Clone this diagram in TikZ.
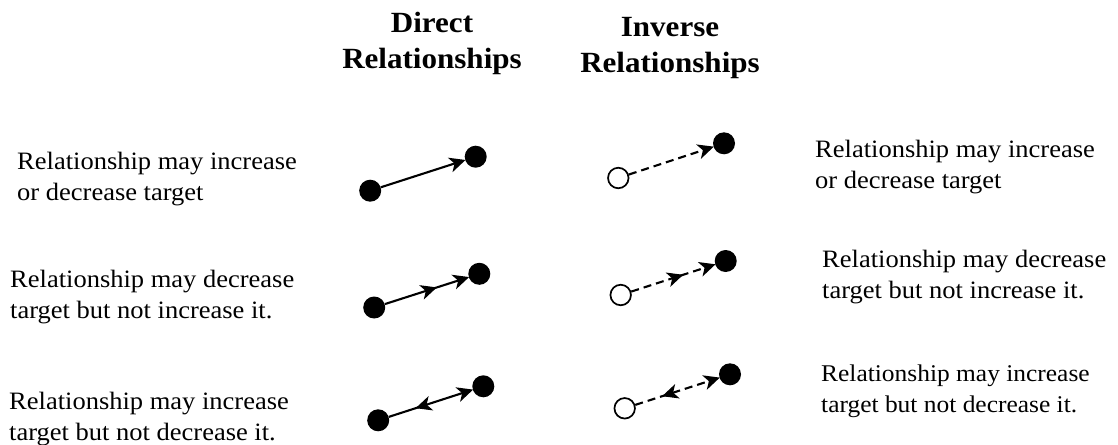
\documentclass[tikz,border=0pt]{standalone}
\usepackage{fontspec}
\setmainfont{Liberation Serif}[FakeStretch=1.06]
\usetikzlibrary{arrows.meta,decorations.markings}
\begin{document}
\begin{tikzpicture}[x=1pt,y=-1pt,
  lbl/.style={inner sep=0pt,anchor=base west,align=left,font=\fontsize{25}{31}\selectfont},
  hdr/.style={inner sep=0pt,anchor=base,align=center,font=\fontsize{29.3}{35.5}\selectfont\bfseries},
  dotf/.style={circle,fill=black,inner sep=0pt,minimum size=22pt},
  doto/.style={circle,draw=black,fill=white,line width=1.7pt,inner sep=0pt,minimum size=20.5pt},
  con/.style={line width=2.1pt,-{Stealth[length=16pt,width=15pt,inset=4.5pt]},shorten >=-0.5pt},
  dsh/.style={con,dash pattern=on 8pt off 5pt},
  midf/.style={postaction={decorate},decoration={markings,mark=at position 0.62 with {\arrow[line width=1pt]{Stealth[length=16pt,width=15pt,inset=4.5pt]}}}},
  midr/.style={postaction={decorate},decoration={markings,mark=at position 0.32 with {\arrowreversed[line width=1pt]{Stealth[length=16pt,width=15pt,inset=4.5pt]}}}}
]
\useasboundingbox (0,0) rectangle (1118,444);

% headers
\node[hdr] (hd) at (432,68) {Direct\\Relationships};
\node[hdr] (hi) at (670,72) {Inverse\\Relationships};

% left texts
\node[lbl] (l1) at (17,200) {Relationship may increase\\or decrease target};
\node[lbl] (l2) at (10,318) {Relationship may decrease\\target but not increase it.};
\node[lbl] (l3) at (9,440) {Relationship may increase\\target but not decrease it.};

% right texts
\node[lbl] (r1) at (815,188) {Relationship may increase\\or decrease target};
\node[lbl] (r2) at (822,298) {Relationship may decrease\\target but not increase it.};
\node[lbl,font=\fontsize{24}{31}\selectfont] (r3) at (821,412) {Relationship may increase\\target but not decrease it.};

% row 1
\node[dotf] (a1) at (370.2,190.7) {};
\node[dotf] (b1) at (475.7,156.7) {};
\node[doto] (c1) at (618.3,178) {};
\node[dotf] (e1) at (724,143.3) {};
\draw[con] (a1) -- (b1);
\draw[dsh] (c1) -- (e1);

% row 2
\node[dotf] (a2) at (374.2,307.5) {};
\node[dotf] (b2) at (479.3,273.8) {};
\node[doto] (c2) at (620.7,295) {};
\node[dotf] (e2) at (725.7,261) {};
\draw[con,midf] (a2) -- (b2);
\draw[dsh,midf] (c2) -- (e2);

% row 3
\node[dotf] (a3) at (378.2,420.3) {};
\node[dotf] (b3) at (483.3,386.3) {};
\node[doto] (c3) at (624.7,408.3) {};
\node[dotf] (e3) at (730,374.3) {};
\draw[con,midr] (a3) -- (b3);
\draw[dsh,midr] (c3) -- (e3);
\end{tikzpicture}
\end{document}
